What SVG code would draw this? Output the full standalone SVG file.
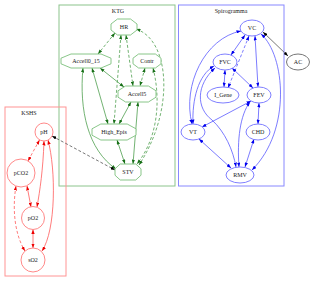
<svg xmlns="http://www.w3.org/2000/svg" width="312" height="282" viewBox="0 0 312 282">
<style>
text{font-family:"Liberation Serif","DejaVu Serif",serif;font-size:6px;text-anchor:middle;dominant-baseline:central;fill:#222}
.cl{fill:none;stroke-width:1}
.g{fill:#fff;stroke:#7cbf7c;stroke-width:0.9}
.b{fill:#fff;stroke:#7070ff;stroke-width:0.9}
.r{fill:#fff;stroke:#ff7a7a;stroke-width:0.9}
.k{fill:#fff;stroke:#666;stroke-width:0.9}
.eg{fill:none;stroke:#4f9f4f;stroke-width:0.8;marker-start:url(#ag);marker-end:url(#ag)}
.eb{fill:none;stroke:#5a5aff;stroke-width:0.8;marker-start:url(#ab);marker-end:url(#ab)}
.er{fill:none;stroke:#ff5a5a;stroke-width:0.8;marker-start:url(#ar);marker-end:url(#ar)}
.ek{fill:none;stroke:#555;stroke-width:0.8;marker-start:url(#ak);marker-end:url(#ak)}
.d{stroke-dasharray:3,2}
</style>
<defs>
<marker id="ag" viewBox="0 0 8 6" refX="8" refY="3" markerWidth="4.5" markerHeight="3.4" markerUnits="userSpaceOnUse" orient="auto-start-reverse"><path d="M0,0L8,3L0,6z" fill="#176f17"/></marker>
<marker id="ab" viewBox="0 0 8 6" refX="8" refY="3" markerWidth="4.5" markerHeight="3.4" markerUnits="userSpaceOnUse" orient="auto-start-reverse"><path d="M0,0L8,3L0,6z" fill="#0000ee"/></marker>
<marker id="ar" viewBox="0 0 8 6" refX="8" refY="3" markerWidth="4.5" markerHeight="3.4" markerUnits="userSpaceOnUse" orient="auto-start-reverse"><path d="M0,0L8,3L0,6z" fill="#ee0000"/></marker>
<marker id="ak" viewBox="0 0 8 6" refX="8" refY="3" markerWidth="4.5" markerHeight="3.4" markerUnits="userSpaceOnUse" orient="auto-start-reverse"><path d="M0,0L8,3L0,6z" fill="#000"/></marker>
</defs>
<rect width="312" height="282" fill="#fff"/>
<g id="clusters">
<g id="cluster_KTG"><rect class="cl" x="59" y="5" width="116" height="181" stroke="#8cc48c"/><text x="118" y="11">KTG</text></g>
<g id="cluster_Spirogramma"><rect class="cl" x="178.5" y="5" width="105.5" height="181" stroke="#8888ff"/><text x="231" y="11">Spirogramma</text></g>
<g id="cluster_KSHS"><rect class="cl" x="5" y="107" width="61" height="169" stroke="#ff9494"/><text x="29" y="113">KSHS</text></g>
</g>
<g id="connectors">
<path class="eg d" d="M115,33 L98,54"/>
<path class="eg d" d="M121,35 L114,124"/>
<path class="eg d" d="M126,35 L133,86"/>
<path class="eg" d="M100,68 L124,87"/>
<path class="eg d" d="M145,68 L140,86"/>
<path class="eg d" d="M153,68 C160,95 160,135 137,164"/>
<path class="eg d" d="M136,29 C170,40 175,110 139,165"/>
<path class="eg" d="M138,102 L133,164"/>
<path class="eg" d="M117,140 L125,164"/>
<path class="eg" d="M83,68 C79,110 88,150 116,169"/>
<path class="eg" d="M92,68 L108,124"/>
<path class="eg" d="M131,102 L119,124"/>
<path class="ek d" d="M52,136 L115,170"/>
<path class="ek" d="M263,32 L288,56"/>
<path class="eb" d="M245,35 L231,55"/>
<path class="eb d" d="M249,36 L228,88"/>
<path class="eb" d="M255,36 L258,87"/>
<path class="eb" d="M241,31 C205,38 182,85 192,124"/>
<path class="eb" d="M214,66 C198,75 192,100 193,124"/>
<path class="eb" d="M215,68 C196,85 196,108 212,120 C225,132 233,150 236,167"/>
<path class="eb" d="M225,70 L224,87"/>
<path class="eb" d="M232,68 L253,88"/>
<path class="eb" d="M251,101 L202,127"/>
<path class="eb" d="M259,103 L258,124"/>
<path class="eb" d="M250,102 C240,115 237,140 239,167"/>
<path class="eb" d="M199,139 L231,168"/>
<path class="eb" d="M254,139 L245,167"/>
<path class="eb" d="M261,34 C285,55 292,130 252,170"/>
<path class="er d" d="M39.5,140 L28,161"/>
<path class="er" d="M44,141 C43,170 40,190 37,207"/>
<path class="er" d="M48,140 C56,170 56,230 42,251"/>
<path class="er" d="M27,186 L31,207"/>
<path class="er d" d="M16,186 C12,210 15,235 25,251"/>
<path class="er" d="M33,229.5 L33,248"/>
</g>
<g id="HR"><polygon class="g" points="117.5,19 130.5,19 137,24 137,30 130.5,35 117.5,35 111,30 111,24"/><text x="124" y="27">HR</text></g>
<g id="Accell0_15"><polygon class="g" points="71,54 101,54 111,58.2 111,63.8 101,68 71,68 61,63.8 61,58.2"/><text x="86" y="61">Accell0_15</text></g>
<g id="Contr"><polygon class="g" points="138.6,54 155.4,54 161,58.2 161,63.8 155.4,68 138.6,68 133,63.8 133,58.2"/><text x="147" y="61">Contr</text></g>
<g id="Accell5"><polygon class="g" points="125.6,86 148.4,86 156,90.8 156,97.2 148.4,102 125.6,102 118,97.2 118,90.8"/><text x="137" y="94">Accell5</text></g>
<g id="High_Epis"><polygon class="g" points="100.8,124 127.2,124 136,128.8 136,135.2 127.2,140 100.8,140 92,135.2 92,128.8"/><text x="114" y="132">High_Epis</text></g>
<g id="STV"><polygon class="g" points="120.2,164 135.8,164 141,168.8 141,175.2 135.8,180 120.2,180 115,175.2 115,168.8"/><text x="128" y="172">STV</text></g>
<g id="VC"><ellipse class="b" cx="252" cy="28" rx="12" ry="8"/><text x="252" y="28">VC</text></g>
<g id="FVC"><ellipse class="b" cx="225" cy="62" rx="12" ry="8"/><text x="225" y="62">FVC</text></g>
<g id="I_Gene"><ellipse class="b" cx="223" cy="95" rx="16" ry="8"/><text x="223" y="95">I_Gene</text></g>
<g id="FEV"><ellipse class="b" cx="259" cy="95" rx="12" ry="8"/><text x="259" y="95">FEV</text></g>
<g id="VT"><ellipse class="b" cx="193" cy="132" rx="12" ry="8"/><text x="193" y="132">VT</text></g>
<g id="CHD"><ellipse class="b" cx="258" cy="132" rx="12" ry="8"/><text x="258" y="132">CHD</text></g>
<g id="RMV"><ellipse class="b" cx="240" cy="175" rx="14" ry="8"/><text x="240" y="175">RMV</text></g>
<g id="AC"><ellipse class="k" cx="298" cy="62" rx="11.5" ry="8"/><text x="298" y="62">AC</text></g>
<g id="pH"><circle class="r" cx="44" cy="132" r="9"/><text x="44" y="132">pH</text></g>
<g id="pCO2"><circle class="r" cx="21" cy="173" r="14"/><text x="21" y="173">pCO2</text></g>
<g id="pO2"><circle class="r" cx="33" cy="218" r="11.5"/><text x="33" y="218">pO2</text></g>
<g id="sO2"><circle class="r" cx="33" cy="260" r="12"/><text x="33" y="260">sO2</text></g>
</svg>
